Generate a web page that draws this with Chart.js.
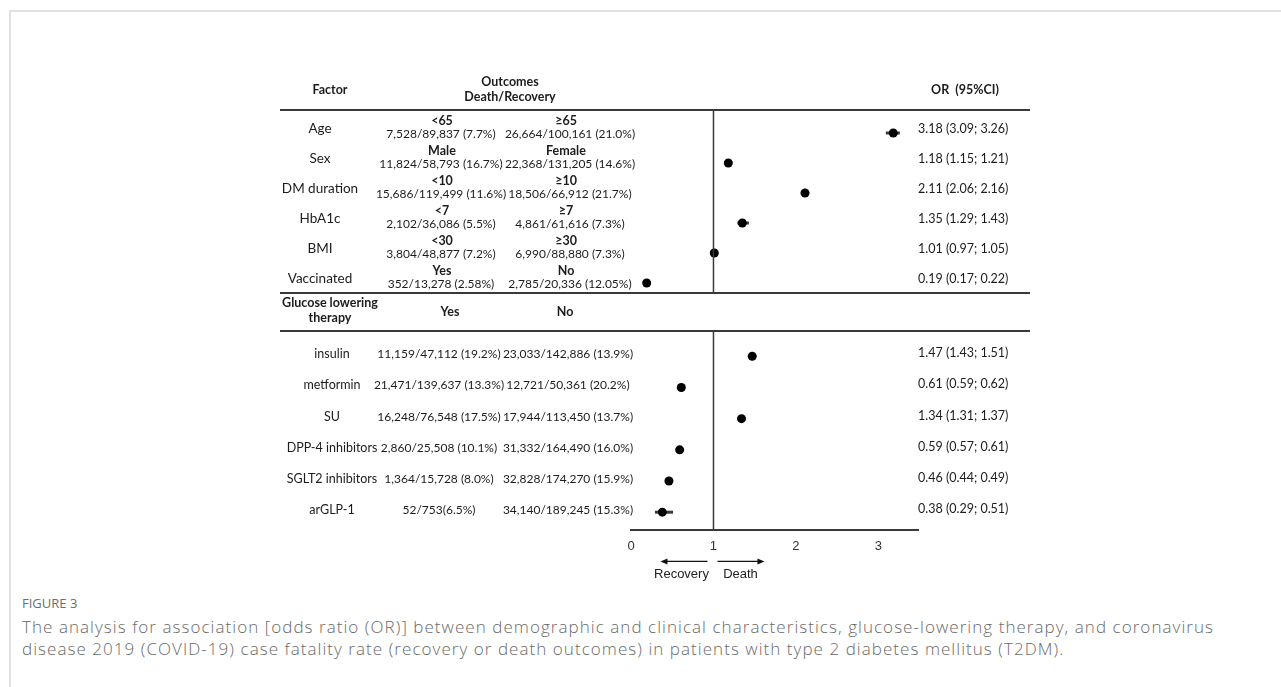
<!DOCTYPE html>
<html>
<head>
<meta charset="utf-8">
<script src="https://cdn.jsdelivr.net/npm/chart.js@4.4.0/dist/chart.umd.min.js"></script>
<style>
body { margin:0; background:#fff; width:1281px; height:687px; overflow:hidden; position:relative; }
#card { position:absolute; left:9px; top:10px; width:1290px; height:700px; border-left:2px solid #e0e0e0; border-top:2px solid #e0e0e0; }
#topChart { position:absolute; left:0; top:0; }
#bottomChart { position:absolute; left:0; top:290px; }
#figlabel { position:absolute; left:22px; top:594px; font-family:'Open Sans', sans-serif; font-size:13px; color:#6e6e6e; line-height:18px; }
#caption { position:absolute; left:22px; top:616px; font-family:'Open Sans', sans-serif; font-weight:300; font-size:17px; letter-spacing:1.05px; color:#6a6a6a; line-height:21.5px; white-space:nowrap; }
</style>
</head>
<body>
<div id="card"></div>
<canvas id="topChart" width="1281" height="300"></canvas>
<canvas id="bottomChart" width="1281" height="300"></canvas>
<div id="figlabel">FIGURE 3</div>
<div id="caption">The analysis for association [odds ratio (OR)] between demographic and clinical characteristics, glucose-lowering therapy, and coronavirus<br>disease 2019 (COVID-19) case fatality rate (recovery or death outcomes) in patients with type 2 diabetes mellitus (T2DM).</div>

<script>
// demographic / clinical factors (top panel)
const factors = ['Age', 'Sex', 'DM duration', 'HbA1c', 'BMI', 'Vaccinated'];
const groupA = ['<65', 'Male', '<10', '<7', '<30', 'Yes'];
const groupB = ['≥65', 'Female', '≥10', '≥7', '≥30', 'No'];
const countsA = ['7,528/89,837 (7.7%)', '11,824/58,793 (16.7%)', '15,686/119,499 (11.6%)', '2,102/36,086 (5.5%)', '3,804/48,877 (7.2%)', '352/13,278 (2.58%)'];
const countsB = ['26,664/100,161 (21.0%)', '22,368/131,205 (14.6%)', '18,506/66,912 (21.7%)', '4,861/61,616 (7.3%)', '6,990/88,880 (7.3%)', '2,785/20,336 (12.05%)'];
const factorOR = [3.18, 1.18, 2.11, 1.35, 1.01, 0.19];
const factorLow = [3.09, 1.15, 2.06, 1.29, 0.97, 0.17];
const factorHigh = [3.26, 1.21, 2.16, 1.43, 1.05, 0.22];

// glucose lowering therapy (bottom panel)
const therapies = ['insulin', 'metformin', 'SU', 'DPP-4 inhibitors', 'SGLT2 inhibitors', 'arGLP-1'];
const therapyYes = ['11,159/47,112 (19.2%)', '21,471/139,637 (13.3%)', '16,248/76,548 (17.5%)', '2,860/25,508 (10.1%)', '1,364/15,728 (8.0%)', '52/753(6.5%)'];
const therapyNo = ['23,033/142,886 (13.9%)', '12,721/50,361 (20.2%)', '17,944/113,450 (13.7%)', '31,332/164,490 (16.0%)', '32,828/174,270 (15.9%)', '34,140/189,245 (15.3%)'];
const therapyOR = [1.47, 0.61, 1.34, 0.59, 0.46, 0.38];
const therapyLow = [1.43, 0.59, 1.31, 0.57, 0.44, 0.29];
const therapyHigh = [1.51, 0.62, 1.37, 0.61, 0.49, 0.51];

const xTicks = [0, 1, 2, 3];

const TXT = '#1c1c1c';
const LINE = '#3a3a3a';
const REG = '12px Lato';
const OR_FONT = '12.5px Lato';
const BOLD = 'bold 12.5px Lato';
const LABEL_TOP = '13.5px Lato';
const LABEL_BOTTOM = '12.5px Lato';

function txt(ctx, s, x, y, font, align)
{
    ctx.font = font;
    ctx.textAlign = align || 'center';
    ctx.textBaseline = 'middle';
    ctx.fillStyle = TXT;
    ctx.fillText(s, x, y);
}

function hline(ctx, x1, x2, y, w)
{
    ctx.beginPath();
    ctx.strokeStyle = LINE;
    ctx.lineWidth = w;
    ctx.moveTo(x1, y);
    ctx.lineTo(x2, y);
    ctx.stroke();
}

function vline(ctx, x, y1, y2)
{
    ctx.beginPath();
    ctx.strokeStyle = LINE;
    ctx.lineWidth = 1.5;
    ctx.moveTo(x, y1);
    ctx.lineTo(x, y2);
    ctx.stroke();
}

function orText(or, lo, hi)
{
    return or.toFixed(2) + ' (' + lo.toFixed(2) + '; ' + hi.toFixed(2) + ')';
}

// horizontal CI bars under the dots
const ciBars = {
    id: 'ciBars',
    beforeDatasetsDraw(chart, args, opts) {
        const ctx = chart.ctx;
        const xs = chart.scales.x, ys = chart.scales.y;
        ctx.save();
        for (let i = 0; i < opts.low.length; i++) {
            const y = ys.getPixelForValue(i);
            hline(ctx, xs.getPixelForValue(opts.low[i]), xs.getPixelForValue(opts.high[i]), y, 3);
        }
        ctx.restore();
    }
};

const topTable = {
    id: 'topTable',
    afterDraw(chart) {
        const ctx = chart.ctx;
        const xs = chart.scales.x, ys = chart.scales.y;
        const area = chart.chartArea;
        ctx.save();
        txt(ctx, 'Factor', 330, 90, BOLD);
        txt(ctx, 'Outcomes', 510, 82, BOLD);
        txt(ctx, 'Death/Recovery', 510, 97, BOLD);
        txt(ctx, 'OR  (95%CI)', 965, 90, BOLD);
        hline(ctx, 280, 1030, area.top, 2);
        hline(ctx, 280, 1030, area.bottom, 2);
        vline(ctx, xs.getPixelForValue(1), area.top, area.bottom);
        for (let i = 0; i < factors.length; i++) {
            const y = ys.getPixelForValue(i);
            txt(ctx, factors[i], 320, y - 4, LABEL_TOP);
            txt(ctx, groupA[i], 442, y - 12, BOLD);
            txt(ctx, groupB[i], 566, y - 12, BOLD);
            txt(ctx, countsA[i], 441, y + 1.5, REG);
            txt(ctx, countsB[i], 570, y + 1.5, REG);
            txt(ctx, orText(factorOR[i], factorLow[i], factorHigh[i]), 918, y - 4, OR_FONT, 'left');
        }
        ctx.restore();
    }
};

const bottomTable = {
    id: 'bottomTable',
    afterDraw(chart) {
        const ctx = chart.ctx;
        const xs = chart.scales.x, ys = chart.scales.y;
        const area = chart.chartArea;
        const one = xs.getPixelForValue(1);
        ctx.save();
        txt(ctx, 'Glucose lowering', 330, 13, BOLD);
        txt(ctx, 'therapy', 330, 28, BOLD);
        txt(ctx, 'Yes', 450, 22, BOLD);
        txt(ctx, 'No', 565, 22, BOLD);
        hline(ctx, 280, 1030, area.top, 2);
        vline(ctx, one, area.top, area.bottom);
        for (let i = 0; i < therapies.length; i++) {
            const y = ys.getPixelForValue(i);
            txt(ctx, therapies[i], 332, y - 2, LABEL_BOTTOM);
            txt(ctx, therapyYes[i], 439, y - 2, REG);
            txt(ctx, therapyNo[i], 568, y - 2, REG);
            txt(ctx, orText(therapyOR[i], therapyLow[i], therapyHigh[i]), 918, y - 3, OR_FONT, 'left');
        }
        // direction arrows under the axis
        const ay = area.bottom + 31;
        ctx.fillStyle = '#111';
        ctx.strokeStyle = '#111';
        ctx.lineWidth = 1.2;
        ctx.beginPath();
        ctx.moveTo(one - 6, ay); ctx.lineTo(one - 50, ay);
        ctx.moveTo(one + 4, ay); ctx.lineTo(one + 48, ay);
        ctx.stroke();
        ctx.beginPath();
        ctx.moveTo(one - 53, ay); ctx.lineTo(one - 46, ay - 3); ctx.lineTo(one - 46, ay + 3); ctx.closePath();
        ctx.moveTo(one + 51, ay); ctx.lineTo(one + 44, ay - 3); ctx.lineTo(one + 44, ay + 3); ctx.closePath();
        ctx.fill();
        ctx.font = '13px "Liberation Sans"';
        ctx.textAlign = 'center';
        ctx.textBaseline = 'middle';
        ctx.fillStyle = '#222';
        ctx.fillText('Recovery', one - 32, ay + 13);
        ctx.fillText('Death', one + 27, ay + 13);
        ctx.restore();
    }
};

function points(vals)
{
    let pts = [];
    for (let i = 0; i < vals.length; i++) {
        pts.push({x: vals[i], y: i});
    }
    return pts;
}

function dotSet(vals)
{
    return {
        data: points(vals),
        pointRadius: 4.5,
        pointHoverRadius: 4.5,
        pointBackgroundColor: '#000',
        pointBorderColor: '#000',
        pointBorderWidth: 0,
        showLine: false
    };
}

const topCtx = document.getElementById('topChart').getContext('2d');
new Chart(topCtx, {
    type: 'scatter',
    data: { datasets: [dotSet(factorOR)] },
    options: {
        responsive: false,
        animation: false,
        devicePixelRatio: 1,
        layout: { padding: { left: 631, right: 363, top: 110, bottom: 7 } },
        plugins: {
            legend: { display: false },
            tooltip: { enabled: false },
            ciBars: { low: factorLow, high: factorHigh }
        },
        scales: {
            x: { type: 'linear', min: 0, max: 3.48, display: false },
            y: { type: 'linear', min: -0.767, max: 5.333, reverse: true, display: false }
        }
    },
    plugins: [ciBars, topTable]
});

const bottomCtx = document.getElementById('bottomChart').getContext('2d');
new Chart(bottomCtx, {
    type: 'scatter',
    data: { datasets: [dotSet(therapyOR)] },
    options: {
        responsive: false,
        animation: false,
        devicePixelRatio: 1,
        layout: { padding: { left: 631, right: 363, top: 41, bottom: 28 } },
        plugins: {
            legend: { display: false },
            tooltip: { enabled: false },
            ciBars: { low: therapyLow, high: therapyHigh }
        },
        scales: {
            x: {
                type: 'linear', min: 0, max: 3.48,
                afterBuildTicks: (axis) => { axis.ticks = xTicks.map(v => ({value: v})); },
                ticks: { padding: 8, color: '#333', font: { family: 'Liberation Sans', size: 13 } },
                grid: { display: true, drawOnChartArea: false, drawTicks: false, color: 'rgba(0,0,0,0)' },
                border: { display: true, color: LINE, width: 2 }
            },
            y: { type: 'linear', min: -0.81, max: 5.584, reverse: true, display: false }
        }
    },
    plugins: [ciBars, bottomTable]
});
</script>
</body>
</html>
